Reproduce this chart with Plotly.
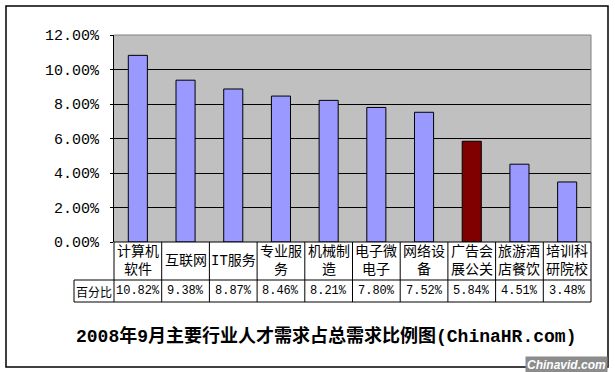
import plotly.graph_objects as go

# ---- data ----
categories = ["计算机软件", "互联网", "IT服务", "专业服务", "机械制造",
              "电子微电子", "网络设备", "广告会展公关", "旅游酒店餐饮", "培训科研院校"]
table_labels = ["计算机<br>软件", "互联网", "IT服务", "专业服<br>务", "机械制<br>造",
                "电子微<br>电子", "网络设<br>备", "广告会<br>展公关", "旅游酒<br>店餐饮", "培训科<br>研院校"]
values = [10.82, 9.38, 8.87, 8.46, 8.21, 7.80, 7.52, 5.84, 4.51, 3.48]
highlight = "广告会展公关"
row_header = "百分比"
title_text = "2008年9月主要行业人才需求占总需求比例图(ChinaHR.com)"
y_ticks = [0, 2, 4, 6, 8, 10, 12]
watermark = "Chinavid.com"

# ---- layout geometry (pixels) ----
W, H = 615, 372
L, R, T, B = 114, 24, 35, 130
pw = W - L - R
ph = H - T - B

def px_x(px):
    return (px - L) / pw

def px_y(py):
    return (H - B - py) / ph

CJK = "Noto Sans CJK SC"
MONO = "Liberation Mono"

colors = ["#800000" if c == highlight else "#9999FF" for c in categories]
xs = list(range(len(categories)))

fig = go.Figure()
fig.add_trace(go.Bar(
    x=xs, y=values, width=0.4,
    marker=dict(color=colors, line=dict(color="black", width=1)),
    hoverinfo="skip",
))

n = len(categories)
r1 = px_y(280)
r2 = px_y(302)
xl = px_x(74)

shapes = []
line = dict(color="black", width=1)
# top & right plot border (gray)
shapes.append(dict(type="line", xref="paper", yref="paper", x0=0, x1=1, y0=1, y1=1,
                   line=dict(color="#808080", width=1)))
shapes.append(dict(type="line", xref="paper", yref="paper", x0=1, x1=1, y0=0, y1=1,
                   line=dict(color="#808080", width=1)))
# table
shapes.append(dict(type="line", xref="paper", yref="paper", x0=0, x1=1, y0=0, y1=0, line=line))
shapes.append(dict(type="line", xref="paper", yref="paper", x0=xl, x1=1, y0=r1, y1=r1, line=line))
shapes.append(dict(type="line", xref="paper", yref="paper", x0=xl, x1=1, y0=r2, y1=r2, line=line))
shapes.append(dict(type="line", xref="paper", yref="paper", x0=xl, x1=xl, y0=r1, y1=r2, line=line))
for i in range(n + 1):
    shapes.append(dict(type="line", xref="paper", yref="paper", x0=i / n, x1=i / n,
                       y0=0, y1=r2, line=line))
# outer chart border
shapes.append(dict(type="rect", xref="paper", yref="paper",
                   x0=px_x(6), x1=px_x(608), y0=px_y(367), y1=px_y(6),
                   line=dict(color="black", width=1.5), layer="below"))

annotations = []
for i, lab in enumerate(table_labels):
    annotations.append(dict(x=i, xref="x", y=(0 + r1) / 2, yref="paper", text=lab,
                            showarrow=False, xanchor="center", yanchor="middle",
                            font=dict(family=f"{MONO}, {CJK}", size=14, color="black")))
for i, v in enumerate(values):
    annotations.append(dict(x=i, xref="x", y=(r1 + r2) / 2, yref="paper", text=f"{v:.2f}%",
                            showarrow=False, xanchor="center", yanchor="middle",
                            font=dict(family=MONO, size=12, color="black")))
annotations.append(dict(x=xl / 2, xref="paper", y=(r1 + r2) / 2, yref="paper", text=row_header,
                        showarrow=False, xanchor="center", yanchor="middle",
                        font=dict(family=CJK, size=12, color="black")))
annotations.append(dict(x=px_x(326), xref="paper", y=px_y(336), yref="paper", text=f"<b>{title_text}</b>",
                        showarrow=False, xanchor="center", yanchor="middle",
                        font=dict(family=f"{MONO}, {CJK}", size=18, color="black")))
annotations.append(dict(x=px_x(566), xref="paper", y=px_y(365), yref="paper",
                        text=f"<b><i>{watermark}</i></b>",
                        showarrow=False, xanchor="center", yanchor="middle",
                        bgcolor="#8c8c8c", borderpad=1,
                        font=dict(family="Liberation Sans", size=12, color="white")))

fig.update_layout(
    width=W, height=H,
    margin=dict(l=L, r=R, t=T, b=B, pad=0),
    paper_bgcolor="white",
    plot_bgcolor="#C0C0C0",
    showlegend=False,
    bargap=0.6,
    shapes=shapes,
    annotations=annotations,
    xaxis=dict(range=[-0.5, n - 0.5], showticklabels=False, showgrid=False,
               zeroline=False, ticks="", fixedrange=True),
    yaxis=dict(range=[0, 12], tickvals=y_ticks, ticktext=[f"{t:.2f}%" for t in y_ticks],
               showgrid=True, gridcolor="black", gridwidth=1, zeroline=False,
               showline=True, linecolor="black", linewidth=1,
               ticks="outside", ticklen=3, tickcolor="black", ticklabelstandoff=8,
               tickfont=dict(family=MONO, size=15, color="black"), fixedrange=True),
)

fig.write_html("out.html", config={"displayModeBar": False},
               post_script="document.body.style.margin='0';document.body.style.overflow='hidden';")
